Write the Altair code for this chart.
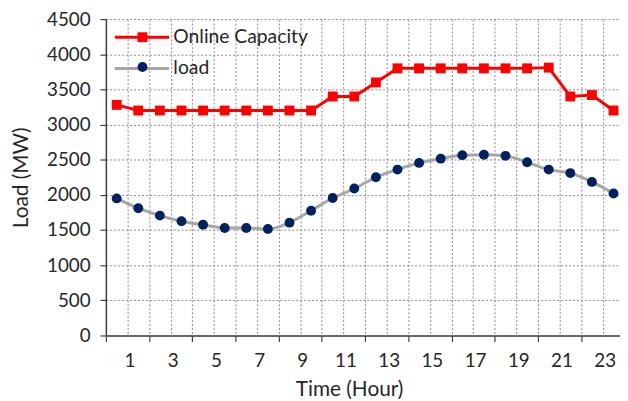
import altair as alt
import pandas as pd

hours = list(range(1, 25))
capacity = [3280, 3200, 3200, 3200, 3200, 3200, 3200, 3200, 3200, 3200,
            3400, 3400, 3600, 3800, 3800, 3800, 3800, 3800, 3800, 3800,
            3810, 3400, 3420, 3200]
load = [1950, 1810, 1705, 1625, 1575, 1530, 1530, 1515, 1605, 1775,
        1955, 2090, 2250, 2360, 2455, 2515, 2565, 2570, 2555, 2465,
        2360, 2310, 2185, 2020]
series_names = ["Online Capacity", "load"]
x_ticks = list(range(0, 24))
y_ticks = list(range(0, 4501, 500))

rows = []
for name, vals in zip(series_names, [capacity, load]):
    for h, v in zip(hours, vals):
        rows.append({"hour": h, "pos": h - 0.5, "value": v, "series": name, "marker": name})
df = pd.DataFrame(rows)

FONT = "Lato"
TXT = "#262626"
AX = "#404040"
GRID = "#888888"

x_enc = alt.X("pos:Q",
              scale=alt.Scale(domain=[0, 23.8], nice=False, zero=False),
              axis=alt.Axis(values=x_ticks, grid=True, gridDash=[2, 2], gridColor=GRID, gridWidth=1,
                            labelExpr="datum.value % 2 == 1 ? datum.label : ''",
                            labelOverlap=False, labelFlush=False, labelOffset=2,
                            tickOpacity={"condition": {"test": "datum.value % 2 == 1", "value": 0}, "value": 1},
                            tickSize=6, tickColor=AX, tickWidth=1.2, domainColor=AX, domainWidth=1.5,
                            labelFont=FONT, labelFontSize=19, labelColor=TXT, labelPadding=10,
                            title="Time (Hour)", titleFont=FONT, titleFontSize=21, titleColor=TXT,
                            titleFontWeight="normal", titleX=246, titleY=44, titleBaseline="top",
                            titleAlign="center"))
y_enc = alt.Y("value:Q",
              scale=alt.Scale(domain=[0, 4500], nice=False),
              axis=alt.Axis(values=y_ticks, format="d", grid=True, gridDash=[2, 2], gridColor=GRID, gridWidth=1,
                            tickSize=6, tickColor=AX, tickWidth=1.2, domainColor=AX, domainWidth=1.5,
                            labelFont=FONT, labelFontSize=19, labelColor=TXT, labelPadding=10,
                            title="Load (MW)", titleFont=FONT, titleFontSize=21, titleColor=TXT,
                            titleFontWeight="normal", titlePadding=15))

stroke_enc = alt.Stroke("series:N",
                        scale=alt.Scale(range=["#FF0000", "#A6A6A6"]),
                        legend=alt.Legend(title=None, orient="none", legendX=26.75, legendY=8.5,
                                          symbolType="M-5.5,0H5.5", symbolSize=100, symbolStrokeWidth=3,
                                          labelFont=FONT, labelFontSize=19.5, labelColor=TXT,
                                          labelOffset=22, padding=0, symbolOffset=0, rowPadding=10.7))
legend_b = alt.Legend(title=None, orient="none", legendX=28, legendY=9.3,
                      symbolSize=100, symbolStrokeWidth=0, labelExpr="''",
                      labelFont=FONT, labelFontSize=18, labelOffset=5, padding=0, symbolOffset=0,
                      rowPadding=12.1)
fill_enc = alt.Fill("marker:N", scale=alt.Scale(range=["#FF0000", "#002060"]), legend=legend_b)
shape_enc = alt.Shape("marker:N", scale=alt.Scale(range=["square", "circle"]), legend=legend_b)

base = alt.Chart(df)
line_cap = base.transform_filter(alt.datum.series == "Online Capacity").mark_line(strokeWidth=3).encode(
    x=x_enc, y=y_enc, stroke=stroke_enc)
line_load = base.transform_filter(alt.datum.series == "load").mark_line(strokeWidth=3, interpolate="monotone").encode(
    x=x_enc, y=y_enc, stroke=stroke_enc)
points = base.mark_point(filled=True, size=100, opacity=1).encode(
    x=x_enc, y=y_enc, fill=fill_enc, shape=shape_enc)

chart = alt.layer(line_cap, line_load, points).properties(
    width=520, height=320,
    autosize=alt.AutoSizeParams(type="none"),
    padding={"left": 99, "top": 9, "right": 0, "bottom": 64},
).configure_view(stroke=None)

chart.save("out.html", embed_options={"renderer": "svg", "actions": False})
